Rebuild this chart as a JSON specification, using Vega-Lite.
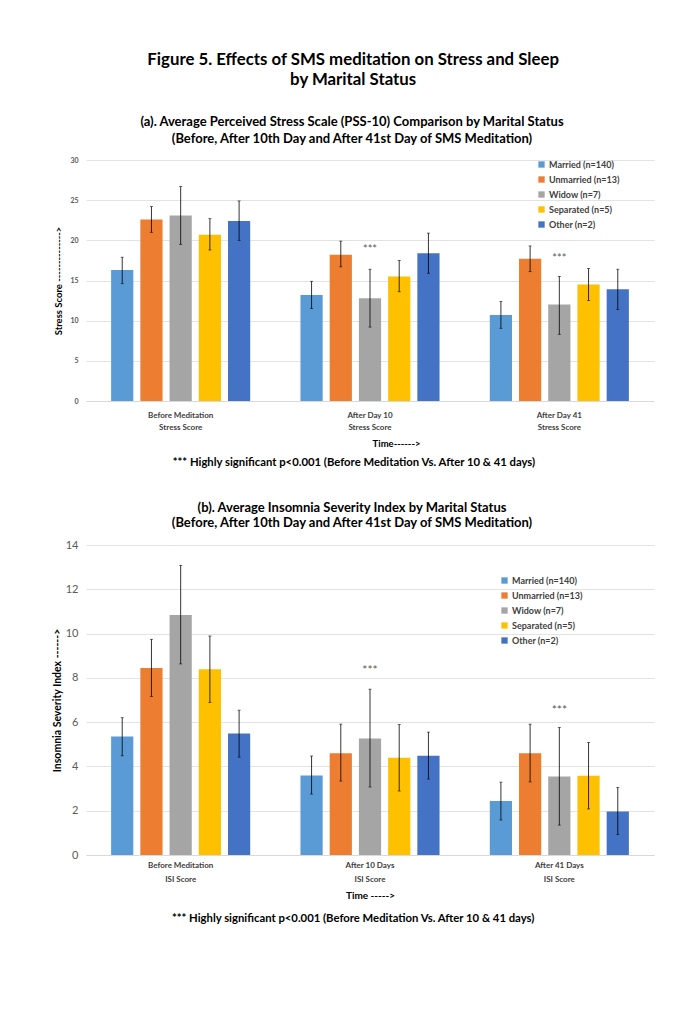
{
  "$schema": "https://vega.github.io/schema/vega-lite/v6.json",
  "padding": {"left": 52, "top": 52, "right": 5, "bottom": 5},
  "background": "white",
  "title": {
    "text": ["Figure 5. Effects of SMS meditation on Stress and Sleep", "by Marital Status"],
    "fontSize": 16.8, "font": "Lato", "fontWeight": "bold", "color": "#000000",
    "lineHeight": 20, "anchor": "middle", "offset": 27
  },
  "datasets": {
    "stress": [
      {"time": "Before Meditation|Stress Score", "status": "Married (n=140)", "mean": 16.3, "lo": 14.6, "hi": 17.9},
      {"time": "Before Meditation|Stress Score", "status": "Unmarried (n=13)", "mean": 22.6, "lo": 21.0, "hi": 24.2},
      {"time": "Before Meditation|Stress Score", "status": "Widow (n=7)", "mean": 23.1, "lo": 19.5, "hi": 26.7},
      {"time": "Before Meditation|Stress Score", "status": "Separated (n=5)", "mean": 20.7, "lo": 18.8, "hi": 22.7},
      {"time": "Before Meditation|Stress Score", "status": "Other (n=2)", "mean": 22.4, "lo": 20.0, "hi": 24.9},
      {"time": "After Day 10|Stress Score", "status": "Married (n=140)", "mean": 13.2, "lo": 11.5, "hi": 14.9},
      {"time": "After Day 10|Stress Score", "status": "Unmarried (n=13)", "mean": 18.2, "lo": 16.7, "hi": 19.9},
      {"time": "After Day 10|Stress Score", "status": "Widow (n=7)", "mean": 12.8, "lo": 9.2, "hi": 16.4},
      {"time": "After Day 10|Stress Score", "status": "Separated (n=5)", "mean": 15.5, "lo": 13.6, "hi": 17.5},
      {"time": "After Day 10|Stress Score", "status": "Other (n=2)", "mean": 18.4, "lo": 15.9, "hi": 20.9},
      {"time": "After Day 41|Stress Score", "status": "Married (n=140)", "mean": 10.7, "lo": 9.05, "hi": 12.4},
      {"time": "After Day 41|Stress Score", "status": "Unmarried (n=13)", "mean": 17.7, "lo": 16.1, "hi": 19.3},
      {"time": "After Day 41|Stress Score", "status": "Widow (n=7)", "mean": 12.0, "lo": 8.3, "hi": 15.5},
      {"time": "After Day 41|Stress Score", "status": "Separated (n=5)", "mean": 14.5, "lo": 12.5, "hi": 16.5},
      {"time": "After Day 41|Stress Score", "status": "Other (n=2)", "mean": 13.9, "lo": 11.4, "hi": 16.4}
    ],
    "isi": [
      {"time": "Before Meditation|ISI Score", "status": "Married (n=140)", "mean": 5.35, "lo": 4.48, "hi": 6.2},
      {"time": "Before Meditation|ISI Score", "status": "Unmarried (n=13)", "mean": 8.45, "lo": 7.16, "hi": 9.74},
      {"time": "Before Meditation|ISI Score", "status": "Widow (n=7)", "mean": 10.84, "lo": 8.63, "hi": 13.08},
      {"time": "Before Meditation|ISI Score", "status": "Separated (n=5)", "mean": 8.39, "lo": 6.89, "hi": 9.89},
      {"time": "Before Meditation|ISI Score", "status": "Other (n=2)", "mean": 5.49, "lo": 4.42, "hi": 6.54},
      {"time": "After 10 Days|ISI Score", "status": "Married (n=140)", "mean": 3.59, "lo": 2.75, "hi": 4.47},
      {"time": "After 10 Days|ISI Score", "status": "Unmarried (n=13)", "mean": 4.6, "lo": 3.34, "hi": 5.91},
      {"time": "After 10 Days|ISI Score", "status": "Widow (n=7)", "mean": 5.26, "lo": 3.07, "hi": 7.49},
      {"time": "After 10 Days|ISI Score", "status": "Separated (n=5)", "mean": 4.39, "lo": 2.89, "hi": 5.89},
      {"time": "After 10 Days|ISI Score", "status": "Other (n=2)", "mean": 4.48, "lo": 3.43, "hi": 5.55},
      {"time": "After 41 Days|ISI Score", "status": "Married (n=140)", "mean": 2.44, "lo": 1.58, "hi": 3.29},
      {"time": "After 41 Days|ISI Score", "status": "Unmarried (n=13)", "mean": 4.6, "lo": 3.3, "hi": 5.91},
      {"time": "After 41 Days|ISI Score", "status": "Widow (n=7)", "mean": 3.55, "lo": 1.35, "hi": 5.76},
      {"time": "After 41 Days|ISI Score", "status": "Separated (n=5)", "mean": 3.58, "lo": 2.08, "hi": 5.08},
      {"time": "After 41 Days|ISI Score", "status": "Other (n=2)", "mean": 1.97, "lo": 0.93, "hi": 3.05}
    ],
    "sigA": [
      {"time": "After Day 10|Stress Score", "y": 19.2, "label": "***"},
      {"time": "After Day 41|Stress Score", "y": 18.1, "label": "***"}
    ],
    "sigB": [
      {"time": "After 10 Days|ISI Score", "y": 8.5, "label": "***"},
      {"time": "After 41 Days|ISI Score", "y": 6.7, "label": "***"}
    ]
  },
  "spacing": 34,
  "resolve": {"scale": {"color": "independent"}, "legend": {"color": "independent"}},
  "vconcat": [
    {
      "title": {
        "text": "*** Highly significant p<0.001 (Before Meditation Vs. After 10 & 41 days)",
        "orient": "bottom", "anchor": "middle", "fontSize": 11.3, "fontWeight": "bold",
        "color": "#000000", "offset": 9
      },
      "vconcat": [
        {
          "title": {
            "text": ["(a). Average Perceived Stress Scale (PSS-10) Comparison by Marital Status", "(Before, After 10th Day and After 41st Day of SMS Meditation)"],
            "fontSize": 13, "fontWeight": "bold", "color": "#000000", "lineHeight": 17, "anchor": "middle", "offset": 10, "dx": -18
          },
          "width": 568,
          "height": 241,
          "encoding": {
            "x": {
              "field": "time", "type": "nominal",
              "sort": ["Before Meditation|Stress Score", "After Day 10|Stress Score", "After Day 41|Stress Score"],
              "scale": {"paddingInner": 0, "paddingOuter": 0},
              "axis": {
                "title": "Time------>", "labelExpr": "split(datum.label, '|')", "labelAngle": 0,
                "labelFontSize": 8, "labelFontWeight": "bold", "labelColor": "#404040", "labelLineHeight": 12,
                "labelPadding": 10, "ticks": false, "domainColor": "#D9D9D9",
                "titleFontSize": 9.5, "titleFontWeight": "bold", "titleColor": "#000000", "titlePadding": 7, "titleX": 310
              }
            }
          },
          "layer": [
            {
              "data": {"name": "stress"},
              "mark": {"type": "bar"},
              "encoding": {
                "xOffset": {
                  "field": "status", "type": "nominal",
                  "sort": ["Married (n=140)", "Unmarried (n=13)", "Widow (n=7)", "Separated (n=5)", "Other (n=2)"],
                  "scale": {"paddingInner": 0.24, "paddingOuter": 0.86}
                },
                "y": {
                  "field": "mean", "type": "quantitative",
                  "scale": {"domain": [0, 30]},
                  "axis": {
                    "values": [0, 5, 10, 15, 20, 25, 30], "title": "Stress Score -------------->",
                    "labelFontSize": 7, "labelFontWeight": "bold", "labelColor": "#595959", "labelPadding": 8,
                    "ticks": false, "domain": false, "gridColor": "#E3E3E3",
                    "titleFontSize": 9.5, "titleFontWeight": "bold", "titleColor": "#000000", "titlePadding": 6
                  }
                },
                "color": {
                  "field": "status", "type": "nominal",
                  "scale": {
                    "domain": ["Married (n=140)", "Unmarried (n=13)", "Widow (n=7)", "Separated (n=5)", "Other (n=2)"],
                    "range": ["#5B9BD5", "#ED7D31", "#A5A5A5", "#FFC000", "#4472C4"]
                  },
                  "legend": {"orient": "none", "legendX": 451, "legendY": 0}
                }
              }
            },
            {
              "data": {"name": "stress"},
              "mark": {"type": "rule", "color": "#000000", "strokeWidth": 0.8},
              "encoding": {
                "xOffset": {"field": "status", "type": "nominal", "sort": ["Married (n=140)", "Unmarried (n=13)", "Widow (n=7)", "Separated (n=5)", "Other (n=2)"]},
                "y": {"field": "lo", "type": "quantitative"},
                "y2": {"field": "hi"}
              }
            },
            {
              "data": {"name": "stress"},
              "mark": {"type": "tick", "color": "#000000", "thickness": 0.8, "size": 3},
              "encoding": {
                "xOffset": {"field": "status", "type": "nominal", "sort": ["Married (n=140)", "Unmarried (n=13)", "Widow (n=7)", "Separated (n=5)", "Other (n=2)"]},
                "y": {"field": "lo", "type": "quantitative"}
              }
            },
            {
              "data": {"name": "stress"},
              "mark": {"type": "tick", "color": "#000000", "thickness": 0.8, "size": 3},
              "encoding": {
                "xOffset": {"field": "status", "type": "nominal", "sort": ["Married (n=140)", "Unmarried (n=13)", "Widow (n=7)", "Separated (n=5)", "Other (n=2)"]},
                "y": {"field": "hi", "type": "quantitative"}
              }
            },
            {
              "data": {"name": "sigA"},
              "mark": {"type": "text", "fontSize": 11, "color": "#595959", "baseline": "middle", "dy": 3},
              "encoding": {
                "y": {"field": "y", "type": "quantitative"},
                "text": {"field": "label"}
              }
            }
          ]
        }
      ]
    },
    {
      "title": {
        "text": "*** Highly significant p<0.001 (Before Meditation Vs. After 10 & 41 days)",
        "orient": "bottom", "anchor": "middle", "fontSize": 11.3, "fontWeight": "bold",
        "color": "#000000", "offset": 13
      },
      "vconcat": [
        {
          "title": {
            "text": ["(b). Average Insomnia Severity Index by Marital Status", "(Before, After 10th Day and After 41st Day of SMS Meditation)"],
            "fontSize": 13, "fontWeight": "bold", "color": "#000000", "lineHeight": 15, "anchor": "middle", "offset": 9, "dx": -18
          },
          "width": 568,
          "height": 310,
          "encoding": {
            "x": {
              "field": "time", "type": "nominal",
              "sort": ["Before Meditation|ISI Score", "After 10 Days|ISI Score", "After 41 Days|ISI Score"],
              "scale": {"paddingInner": 0, "paddingOuter": 0},
              "axis": {
                "title": "Time ----->", "labelExpr": "split(datum.label, '|')", "labelAngle": 0,
                "labelFontSize": 8, "labelFontWeight": "bold", "labelColor": "#404040", "labelLineHeight": 14,
                "labelPadding": 6, "ticks": false, "domainColor": "#D9D9D9",
                "titleFontSize": 10, "titleFontWeight": "bold", "titleColor": "#000000", "titlePadding": 7, "titleX": 284
              }
            }
          },
          "layer": [
            {
              "data": {"name": "isi"},
              "mark": {"type": "bar"},
              "encoding": {
                "xOffset": {
                  "field": "status", "type": "nominal",
                  "sort": ["Married (n=140)", "Unmarried (n=13)", "Widow (n=7)", "Separated (n=5)", "Other (n=2)"],
                  "scale": {"paddingInner": 0.24, "paddingOuter": 0.86}
                },
                "y": {
                  "field": "mean", "type": "quantitative",
                  "scale": {"domain": [0, 14]},
                  "axis": {
                    "values": [0, 2, 4, 6, 8, 10, 12, 14], "title": "Insomnia Severity Index ------>",
                    "labelFontSize": 11, "labelColor": "#595959", "labelPadding": 8,
                    "ticks": false, "domain": false, "gridColor": "#E3E3E3",
                    "titleFontSize": 10.5, "titleFontWeight": "bold", "titleColor": "#000000", "titlePadding": 3
                  }
                },
                "color": {
                  "field": "status", "type": "nominal",
                  "scale": {
                    "domain": ["Married (n=140)", "Unmarried (n=13)", "Widow (n=7)", "Separated (n=5)", "Other (n=2)"],
                    "range": ["#5B9BD5", "#ED7D31", "#A5A5A5", "#FFC000", "#4472C4"]
                  },
                  "legend": {"orient": "none", "legendX": 414, "legendY": 31}
                }
              }
            },
            {
              "data": {"name": "isi"},
              "mark": {"type": "rule", "color": "#000000", "strokeWidth": 0.8},
              "encoding": {
                "xOffset": {"field": "status", "type": "nominal", "sort": ["Married (n=140)", "Unmarried (n=13)", "Widow (n=7)", "Separated (n=5)", "Other (n=2)"]},
                "y": {"field": "lo", "type": "quantitative"},
                "y2": {"field": "hi"}
              }
            },
            {
              "data": {"name": "isi"},
              "mark": {"type": "tick", "color": "#000000", "thickness": 0.8, "size": 3},
              "encoding": {
                "xOffset": {"field": "status", "type": "nominal", "sort": ["Married (n=140)", "Unmarried (n=13)", "Widow (n=7)", "Separated (n=5)", "Other (n=2)"]},
                "y": {"field": "lo", "type": "quantitative"}
              }
            },
            {
              "data": {"name": "isi"},
              "mark": {"type": "tick", "color": "#000000", "thickness": 0.8, "size": 3},
              "encoding": {
                "xOffset": {"field": "status", "type": "nominal", "sort": ["Married (n=140)", "Unmarried (n=13)", "Widow (n=7)", "Separated (n=5)", "Other (n=2)"]},
                "y": {"field": "hi", "type": "quantitative"}
              }
            },
            {
              "data": {"name": "sigB"},
              "mark": {"type": "text", "fontSize": 12, "color": "#595959", "baseline": "middle", "dy": 3},
              "encoding": {
                "y": {"field": "y", "type": "quantitative"},
                "text": {"field": "label"}
              }
            }
          ]
        }
      ]
    }
  ],
  "config": {
    "font": "Lato",
    "view": {"stroke": null},
    "legend": {
      "title": null, "symbolType": "square", "symbolSize": 40, "symbolStrokeWidth": 0,
      "labelFontSize": 9, "labelFontWeight": "bold", "labelColor": "#404040", "rowPadding": 5, "labelOffset": 3
    },
    "title": {"font": "Lato"}
  }
}
